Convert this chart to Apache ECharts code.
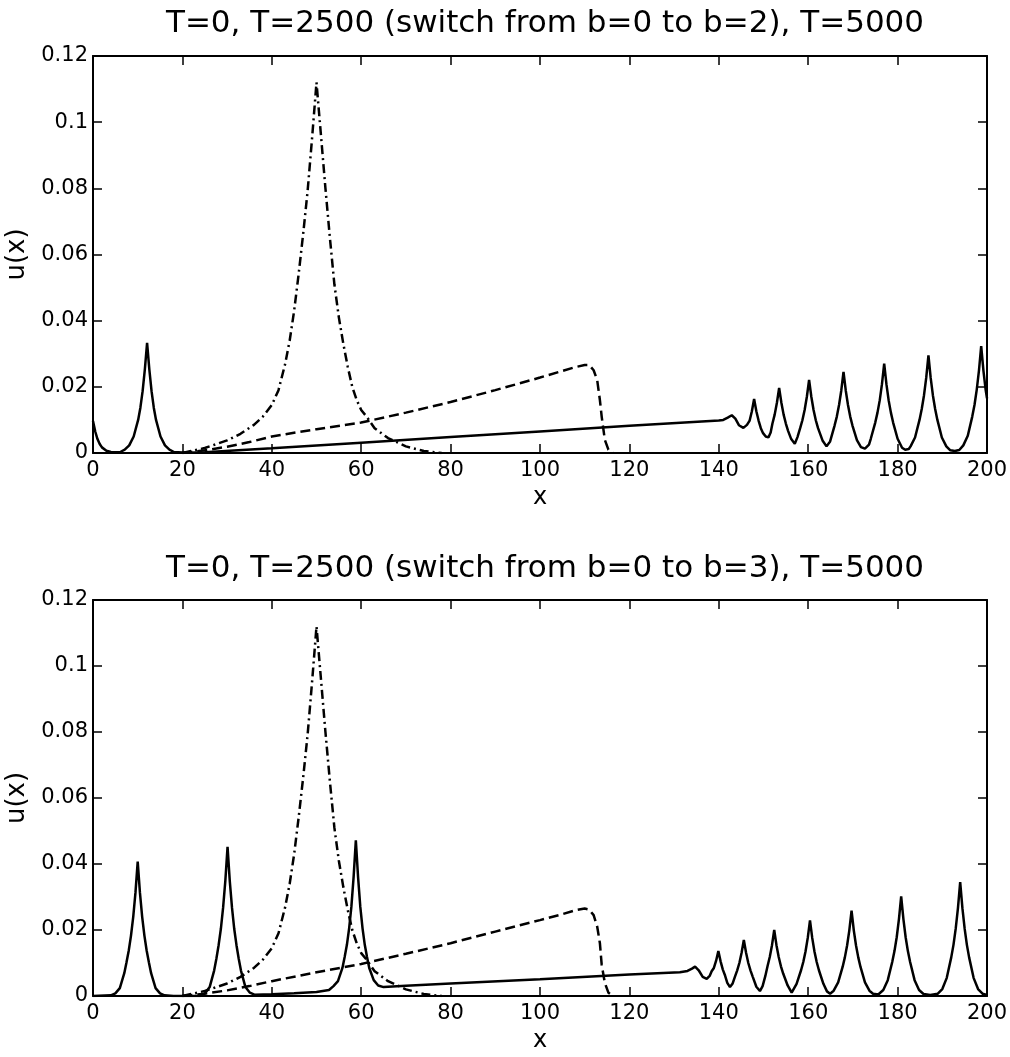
<!DOCTYPE html>
<html><head><meta charset="utf-8">
<script src="https://cdn.jsdelivr.net/npm/echarts@6/dist/echarts.min.js"></script>
<style>html,body{margin:0;padding:0;background:#fff}#c{width:1010px;height:1057px}</style>
</head><body><div id="c"></div>
<script>
// ---- data ----
const titles = ['T=0, T=2500 (switch from b=0 to b=2), T=5000', 'T=0, T=2500 (switch from b=0 to b=3), T=5000'];
const xTicks = [0, 20, 40, 60, 80, 100, 120, 140, 160, 180, 200];
const yTickLabels = ['0', '0.02', '0.04', '0.06', '0.08', '0.1', '0.12'];

// T=0 (dash-dot), same initial profile in both panels
const uT0 = [[20,0],[25,0.0015],[30,0.0038],[33,0.0058],[36,0.0085],[38,0.011],[40,0.0145],[41.5,0.019],[43,0.027],[44,0.034],[45,0.043],[46,0.054],[47,0.066],[48,0.079],[49,0.095],[50,0.112],[51,0.096],[52,0.08],[53,0.065],[54,0.051],[55,0.041],[56,0.033],[57,0.026],[58,0.02],[59,0.016],[60,0.013],[61.2,0.011],[63,0.0075],[66,0.0045],[70,0.002],[74,0.0006],[78,0]];

// T=2500 (dashed)
const uT2500a = [[20,0],[25,0.0008],[30,0.0019],[35,0.0033],[40,0.005],[50,0.0072],[60,0.0092],[70,0.0122],[80,0.0154],[90,0.019],[100,0.0228],[105,0.0248],[108,0.026],[110,0.0266],[111,0.0266],[112,0.025],[112.8,0.022],[113.4,0.016],[113.8,0.011],[114.5,0.004],[115.3,0.001],[116.3,0]];
const uT2500b = [[20,0],[25,0.0007],[30,0.0017],[35,0.003],[40,0.0045],[50,0.0072],[60,0.0097],[70,0.0128],[80,0.016],[90,0.0195],[100,0.023],[105,0.0248],[108,0.026],[110,0.0265],[111,0.0262],[112,0.0245],[112.8,0.021],[113.4,0.016],[113.8,0.0095],[114.5,0.004],[115.3,0.001],[116.3,0]];

// T=5000 (solid), b=2
const uT5000a = [[0,0.0097],[0.5,0.0065],[1,0.0042],[1.5,0.0027],[2,0.0017],[3,0.0007],[4,0.0003],[5,0.0002],[6.1,0.0003],[7.1,0.001],[8.1,0.0023],[9.1,0.005],[10.1,0.01],[10.6,0.0137],[11.1,0.0187],[11.6,0.0253],[12.1,0.0333],[12.6,0.0253],[13.1,0.0187],[13.6,0.0137],[14.1,0.01],[15.1,0.005],[16.1,0.0023],[17.1,0.001],[18.1,0.0003],[21,0.0001],[25,0.0002],[40,0.0014],[60,0.0031],[80,0.0048],[100,0.0065],[120,0.0082],[140,0.0098],[141,0.01],[142,0.0107],[142.9,0.0114],[143.7,0.0104],[144.5,0.0084],[145.5,0.0076],[146.3,0.0085],[146.9,0.0098],[147.4,0.0126],[147.9,0.0163],[148.4,0.0126],[148.9,0.0098],[149.4,0.0075],[149.9,0.006],[150.5,0.005],[151.1,0.0047],[151.6,0.0062],[152.0,0.0089],[152.5,0.0116],[153.0,0.0152],[153.5,0.0197],[154.0,0.0152],[154.5,0.0116],[155.0,0.0089],[155.5,0.0067],[156.2,0.0042],[157.0,0.0028],[157.6,0.0048],[158.2,0.0075],[158.7,0.0099],[159.2,0.013],[159.7,0.017],[160.2,0.0221],[160.7,0.017],[161.2,0.013],[161.7,0.0099],[162.2,0.0075],[163.2,0.0038],[164.1,0.002],[164.9,0.0035],[165.9,0.0083],[166.4,0.011],[166.9,0.0145],[167.4,0.0189],[167.9,0.0245],[168.4,0.0189],[168.9,0.0145],[169.4,0.011],[169.9,0.0083],[170.9,0.0039],[171.8,0.0018],[172.7,0.0013],[173.6,0.0025],[174.0,0.0043],[175.0,0.0092],[175.5,0.0122],[176.0,0.0159],[176.5,0.0208],[177.0,0.027],[177.5,0.0208],[178.0,0.0159],[178.5,0.0122],[179.0,0.0092],[180.0,0.0043],[181.0,0.0016],[181.7,0.001],[182.5,0.0012],[182.9,0.002],[183.9,0.0047],[184.9,0.01],[185.4,0.0133],[185.9,0.0174],[186.4,0.0227],[186.9,0.0295],[187.4,0.0227],[187.9,0.0174],[188.4,0.0133],[188.9,0.01],[189.9,0.0047],[190.9,0.002],[191.8,0.0008],[192.8,0.0006],[193.8,0.0009],[194.7,0.0023],[195.7,0.0052],[196.7,0.011],[197.2,0.0145],[197.7,0.0191],[198.2,0.0249],[198.7,0.0323],[199.2,0.0249],[199.7,0.0191],[200,0.0165]];

// T=5000 (solid), b=3
const uT5000b = [[0,0],[4,0.0002],[5,0.0008],[6,0.0024],[7,0.0069],[7.5,0.0102],[8,0.0138],[8.5,0.0183],[9,0.024],[9.5,0.0313],[10,0.0407],[10.5,0.0313],[11,0.024],[11.5,0.0183],[12,0.0138],[12.5,0.0102],[13,0.0069],[14,0.0024],[15,0.0008],[16,0.0002],[18,0],[24,0],[25.1,0.0009],[26.1,0.0027],[27.1,0.0077],[27.6,0.0113],[28.1,0.0154],[28.6,0.0203],[29.1,0.0267],[29.6,0.0348],[30.1,0.0452],[30.6,0.0348],[31.1,0.0267],[31.6,0.0203],[32.1,0.0154],[32.6,0.0113],[33.1,0.0077],[34.1,0.0027],[35.1,0.001],[36.1,0.0004],[40,0.0005],[45,0.0008],[50,0.0012],[52.8,0.0018],[53.8,0.003],[54.8,0.0045],[55.8,0.0085],[56.3,0.0118],[56.8,0.0155],[57.3,0.0205],[57.8,0.027],[58.3,0.036],[58.8,0.0472],[59.3,0.036],[59.8,0.027],[60.3,0.0205],[60.8,0.0155],[61.3,0.0118],[61.8,0.0085],[62.8,0.0048],[63.8,0.0032],[65,0.0027],[70,0.0031],[80,0.0038],[100,0.0051],[120,0.0065],[131.3,0.0072],[133,0.0076],[134,0.0083],[134.7,0.0089],[135.5,0.0078],[136.4,0.0058],[137.3,0.0052],[138.0,0.0062],[138.4,0.0075],[138.9,0.0085],[139.4,0.0107],[139.9,0.0136],[140.4,0.0105],[140.9,0.008],[141.4,0.0062],[141.9,0.004],[142.5,0.0027],[143.1,0.0038],[143.6,0.0058],[144.1,0.0077],[144.6,0.01],[145.1,0.0131],[145.6,0.017],[146.1,0.0131],[146.6,0.01],[147.1,0.0077],[147.6,0.0058],[148.4,0.0028],[149.2,0.0015],[149.8,0.003],[150.4,0.006],[150.9,0.009],[151.4,0.0118],[151.9,0.0154],[152.4,0.02],[152.9,0.0154],[153.4,0.0118],[153.9,0.009],[154.4,0.0068],[155.4,0.0032],[156.3,0.001],[157.4,0.0037],[158.4,0.0078],[158.9,0.0103],[159.4,0.0135],[159.9,0.0176],[160.4,0.0229],[160.9,0.0176],[161.4,0.0135],[161.9,0.0103],[162.4,0.0078],[163.4,0.0037],[164.2,0.0014],[164.9,0.0007],[165.7,0.0016],[166.7,0.0041],[167.7,0.0088],[168.2,0.0117],[168.7,0.0153],[169.2,0.0199],[169.7,0.0259],[170.2,0.0199],[170.7,0.0153],[171.2,0.0117],[171.7,0.0088],[172.7,0.0041],[173.7,0.0016],[174.5,0.0007],[175.3,0.0005],[175.8,0.0006],[176.8,0.0018],[177.8,0.0048],[178.8,0.0103],[179.3,0.0136],[179.8,0.0178],[180.3,0.0233],[180.8,0.0302],[181.3,0.0233],[181.8,0.0178],[182.3,0.0136],[182.8,0.0103],[183.8,0.0048],[184.8,0.0018],[185.8,0.0006],[187.3,0.0003],[189,0.0007],[190,0.0021],[191,0.0055],[192,0.0117],[192.5,0.0155],[193,0.0204],[193.5,0.0266],[194,0.0345],[194.5,0.0266],[195,0.0204],[195.5,0.0155],[196,0.0117],[197,0.0055],[198,0.0021],[199,0.0007],[200,0.0003]];

// ---- chart ----
const FONT = 'DejaVu Sans';
const grids = [
  {left: 93, top: 56, width: 894, height: 397, containLabel: false, outerBoundsMode: 'none'},
  {left: 93, top: 600, width: 894, height: 396, containLabel: false, outerBoundsMode: 'none'}
];
const tickStyle = {show: true, inside: true, length: 9, lineStyle: {color: '#000', width: 1.5}};
const lineAx = {show: true, onZero: false, lineStyle: {color: '#000', width: 2}};
const xAxes = [], yAxes = [], series = [], titleArr = [];
grids.forEach((g, i) => {
  xAxes.push({gridIndex: i, type: 'value', min: xTicks[0], max: xTicks[xTicks.length-1], interval: xTicks[1]-xTicks[0], position: 'bottom',
    axisLine: lineAx, axisTick: tickStyle, splitLine: {show: false},
    axisLabel: {color: '#000', fontSize: 21, fontFamily: FONT, margin: 7},
    name: 'x', nameLocation: 'middle', nameGap: 33, nameTextStyle: {color: '#000', fontSize: 24, fontFamily: FONT}});
  xAxes.push({gridIndex: i, type: 'value', min: xTicks[0], max: xTicks[xTicks.length-1], interval: xTicks[1]-xTicks[0], position: 'top',
    axisLine: lineAx, axisTick: tickStyle, splitLine: {show: false}, axisLabel: {show: false}});
  yAxes.push({gridIndex: i, type: 'value', min: 0, max: 0.12, interval: 0.02, position: 'left',
    axisLine: lineAx, axisTick: tickStyle, splitLine: {show: false},
    axisLabel: {color: '#000', fontSize: 21, fontFamily: FONT, margin: 5, formatter: v => yTickLabels[Math.round(v/0.02)]},
    name: 'u(x)', nameLocation: 'middle', nameGap: 43, nameTextStyle: {color: '#000', fontSize: 26, fontFamily: FONT}});
  yAxes.push({gridIndex: i, type: 'value', min: 0, max: 0.12, interval: 0.02, position: 'right',
    axisLine: lineAx, axisTick: tickStyle, splitLine: {show: false}, axisLabel: {show: false}});
  titleArr.push({text: titles[i], left: 540, textAlign: 'center', top: i === 0 ? 3 : 548,
    textStyle: {color: '#000', fontSize: 31, fontWeight: 'normal', fontFamily: FONT}});
});
const sets = [[uT0, uT2500a, uT5000a], [uT0, uT2500b, uT5000b]];
const styles = [[9, 4, 2, 4], [10, 5], 'solid'];
sets.forEach((arr, i) => {
  arr.forEach((d, k) => {
    series.push({type: 'line', xAxisIndex: i*2, yAxisIndex: i*2, data: d, showSymbol: false, symbol: 'none',
      smooth: false, lineStyle: {color: '#000', width: 2.5, type: styles[k]}, z: 3 + k});
  });
});
const chart = echarts.init(document.getElementById('c'), null, {renderer: 'canvas'});
chart.setOption({animation: false, backgroundColor: '#fff', title: titleArr, grid: grids, xAxis: xAxes, yAxis: yAxes, series: series});
</script>
</body></html>
